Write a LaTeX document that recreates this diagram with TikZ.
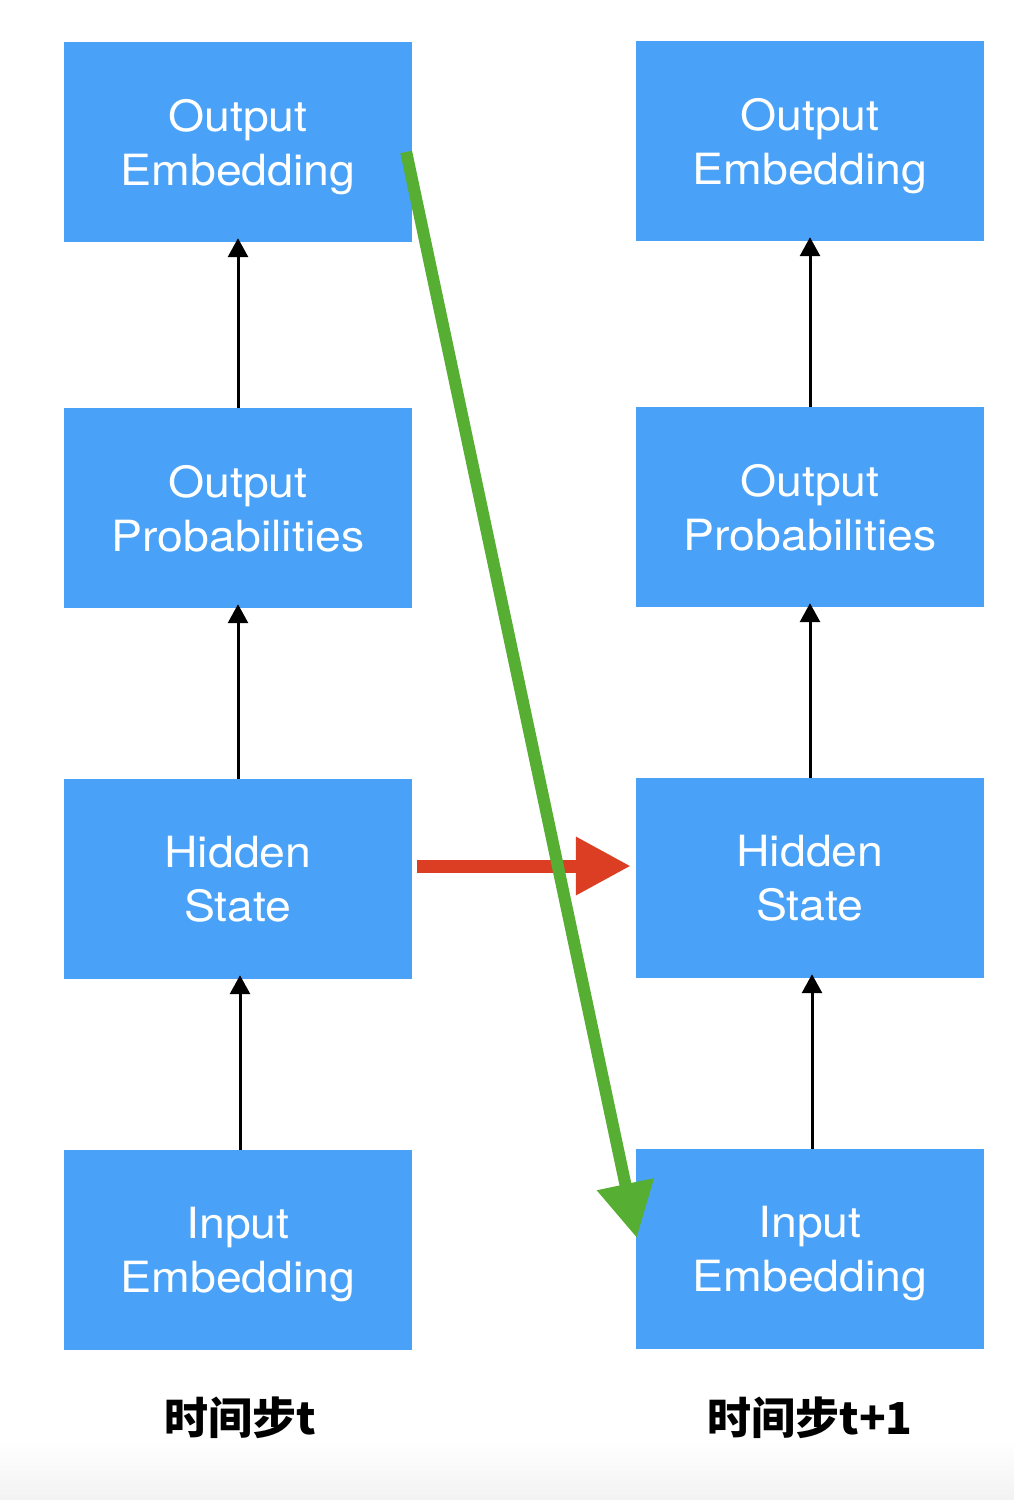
\documentclass[tikz,border=0pt]{standalone}
\usepackage{fontspec}
\usetikzlibrary{arrows.meta}
\newfontfamily\boxfont[FakeStretch=1.08]{TeX Gyre Heros}
\newfontfamily\cjk{Noto Sans CJK SC}
\definecolor{boxblue}{RGB}{73,162,248}
\definecolor{arrred}{RGB}{219,62,34}
\definecolor{arrgreen}{RGB}{86,174,51}
\tikzset{
  blockbox/.style={fill=boxblue, minimum width=348pt, minimum height=200pt, inner sep=0pt,
    text=white, align=center, text depth=0pt, font=\boxfont\fontsize{43}{54}\selectfont},
  uparrow/.style={draw=black, line width=3pt, shorten >=-4pt, -{Triangle[length=19pt,width=20pt]}},
  steplabel/.style={font=\cjk\bfseries\fontsize{44}{50}\selectfont, inner sep=0pt}
}
\begin{document}
\begin{tikzpicture}[x=1pt,y=-1pt]
\useasboundingbox (0,0) rectangle (1014,1500);
\shade[top color=white, bottom color=black!5, draw=none] (0,1440) rectangle (1014,1500);
% left column
\node[blockbox] (oe1) at (238,142) {Output\\Embedding};
\node[blockbox] (op1) at (238,508) {Output\\Probabilities};
\node[blockbox] (hs1) at (238,879) {Hidden\\State};
\node[blockbox] (ie1) at (238,1250) {Input\\Embedding};
% right column
\node[blockbox] (oe2) at (810,141) {Output\\Embedding};
\node[blockbox] (op2) at (810,507) {Output\\Probabilities};
\node[blockbox] (hs2) at (810,878) {Hidden\\State};
\node[blockbox] (ie2) at (810,1249) {Input\\Embedding};
% vertical arrows
\draw[uparrow] (op1.north) -- (oe1.south);
\draw[uparrow] (hs1.north) -- (op1.south);
\draw[uparrow] ([xshift=2pt]ie1.north) -- ([xshift=2pt]hs1.south);
\draw[uparrow] (op2.north) -- (oe2.south);
\draw[uparrow] (hs2.north) -- (op2.south);
\draw[uparrow] ([xshift=2pt]ie2.north) -- ([xshift=2pt]hs2.south);
% red arrow
\draw[arrred, line width=13pt, -{Triangle[length=55pt,width=55pt]}]
  ([shift={(5,-13)}]hs1.east) -- ([shift={(-5,-12)}]hs2.west);
% green arrow
\draw[arrgreen, line width=12pt, -{Triangle[length=55pt,width=55pt]}]
  ([shift={(-6,10)}]oe1.east) -- ([shift={(1,-11)}]ie2.west);
% labels
\node[steplabel] (l1) at (240,1418) {时间步t};
\node[steplabel] (l2) at (810,1418) {时间步t+1};
\end{tikzpicture}
\end{document}
